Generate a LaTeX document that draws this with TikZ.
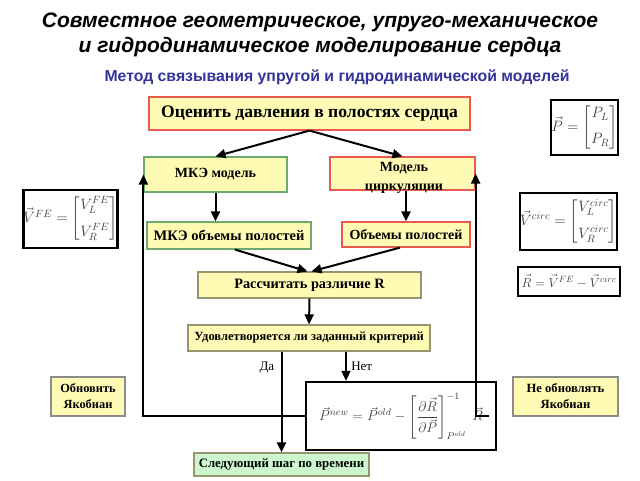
\RequirePackage{fix-cm}
\documentclass[tikz,border=0pt]{standalone}
\usepackage{amsmath}
\usepackage{fontspec}
\setmainfont{Liberation Serif}
\setsansfont{Liberation Sans}
\usetikzlibrary{arrows.meta,calc}
\definecolor{fillY}{RGB}{255,250,180}
\definecolor{fillG}{RGB}{204,246,204}
\definecolor{edgeR}{RGB}{232,90,80}
\definecolor{edgeG}{RGB}{110,170,110}
\definecolor{edgeO}{RGB}{150,150,110}
\definecolor{subblue}{RGB}{51,51,153}
\tikzset{
  fbox/.style={draw, line width=1.2pt, fill=fillY, inner sep=0pt, font=\bfseries\fontsize{14}{16}\selectfont},
  redbox/.style={fbox, draw=edgeR},
  grnbox/.style={fbox, draw=edgeG},
  olvbox/.style={fbox, draw=edgeO},
  mathbox/.style={draw=black, line width=2.4pt, fill=white, inner sep=0pt, text=black!75},
  arr/.style={line width=2pt, -{Triangle[length=10pt,width=9pt]}},
  lbl/.style={font=\fontsize{13}{15}\selectfont}
}
\begin{document}
\begin{tikzpicture}[x=1pt,y=-1pt]
\useasboundingbox (0,0) rectangle (640,480);
% titles
\node[font=\sffamily\bfseries\itshape\fontsize{21}{25}\selectfont, align=center] (title) at (320,35)
  {Совместное геометрическое, упруго-механическое\\и гидродинамическое моделирование сердца};
\node[font=\sffamily\bfseries\fontsize{15.8}{18}\selectfont, text=subblue] (sub) at (337,77)
  {Метод связывания упругой и гидродинамической моделей};
% flow boxes
\node[redbox, minimum width=321pt, minimum height=33pt, font=\bfseries\fontsize{17.6}{20}\selectfont] (top) at (309.5,113.5) {Оценить давления в полостях сердца};
\node[grnbox, minimum width=143pt, minimum height=35pt] (mke) at (215.5,174.5) {МКЭ модель};
\node[redbox, minimum width=145pt, minimum height=33pt] (circ) at (402.5,173.5) {};
\node[font=\bfseries\fontsize{14}{19}\selectfont, align=center] (circtxt) at (404,178) {Модель\\циркуляции};
\node[grnbox, minimum width=164pt, minimum height=27pt, font=\bfseries\fontsize{14.5}{16}\selectfont] (mkev) at (229,235.5) {МКЭ объемы полостей};
\node[redbox, minimum width=128pt, minimum height=25pt] (vol) at (406,234.5) {Объемы полостей};
\node[olvbox, minimum width=223pt, minimum height=26pt, font=\bfseries\fontsize{14.3}{16}\selectfont] (calc) at (309.5,285) {Рассчитать различие R};
\node[olvbox, minimum width=242pt, minimum height=26pt, font=\bfseries\fontsize{12.5}{14}\selectfont] (crit) at (309,338) {Удовлетворяется ли заданный критерий};
\node[olvbox, fill=fillG, minimum width=175pt, minimum height=23pt, font=\bfseries\fontsize{12.8}{14}\selectfont] (next) at (281.5,464.5) {Следующий шаг по времени};
\node[olvbox, draw=black!45, minimum width=74pt, minimum height=39pt, align=center, font=\bfseries\fontsize{12.4}{16}\selectfont] (upd) at (88,396.5) {Обновить\\Якобиан};
\node[olvbox, draw=black!45, minimum width=105pt, minimum height=39pt, align=center, font=\bfseries\fontsize{12.6}{16}\selectfont] (noupd) at (565.5,396.5) {Не обновлять\\Якобиан};
% formula boxes
\node[mathbox, minimum width=67pt, minimum height=55pt] (pbox) at (584.5,127.5)
  {\fontsize{15}{17}\selectfont$\vec P=\begin{bmatrix}P_L\\[9pt] P_R\end{bmatrix}$};
\node[mathbox, minimum width=93pt, minimum height=58pt] (vfe) at (70.5,219)
  {\fontsize{15}{17}\selectfont$\vec V^{FE}=\begin{bmatrix}V_L^{FE}\\[9pt] V_R^{FE}\end{bmatrix}$};
\node[mathbox, minimum width=97pt, minimum height=57pt] (vcirc) at (568.5,221.5)
  {\fontsize{15}{17}\selectfont$\vec V^{circ}=\begin{bmatrix}V_L^{circ}\\[9pt] V_R^{circ}\end{bmatrix}$};
\node[mathbox, minimum width=102pt, minimum height=29pt] (rbox) at (569,281.5)
  {\fontsize{13}{15}\selectfont$\vec R=\vec V^{FE}-\vec V^{circ}$};
\node[mathbox, minimum width=190pt, minimum height=68pt] (form) at (401,416)
  {\fontsize{14}{16}\selectfont$\vec P^{new}=\vec P^{old}-\left[\dfrac{\partial\vec R}{\partial\vec P}\right]^{-1}_{P^{old}}\;\vec R$};
% connectors
\draw[arr] (top.south) -- (mke.north);
\draw[arr] (top.south) -- (circ.north);
\draw[arr] (mke.south) -- (mke.south |- mkev.north);
\draw[arr] (vol.north |- circ.south) -- (vol.north);
\draw[arr] ([xshift=6pt]mkev.south) -- ([xshift=-2pt]calc.north);
\draw[arr] ([xshift=-6pt]vol.south) -- ([xshift=2pt]calc.north);
\draw[arr] (calc.south) -- (crit.north);
\draw[arr] (next.north |- crit.south) -- node[lbl, left=3pt, pos=0.16] (da) {Да} (next.north);
\draw[arr] ([xshift=37pt]crit.south) -- node[lbl, right=1pt, pos=0.5] (net) {Нет} ([xshift=37pt]crit.south |- form.north);
\draw[arr] (form.west) -| (mke.west);
\coordinate (rstart) at (489,416);
\draw[arr] (rstart) -| (circ.east);
\end{tikzpicture}
\end{document}
